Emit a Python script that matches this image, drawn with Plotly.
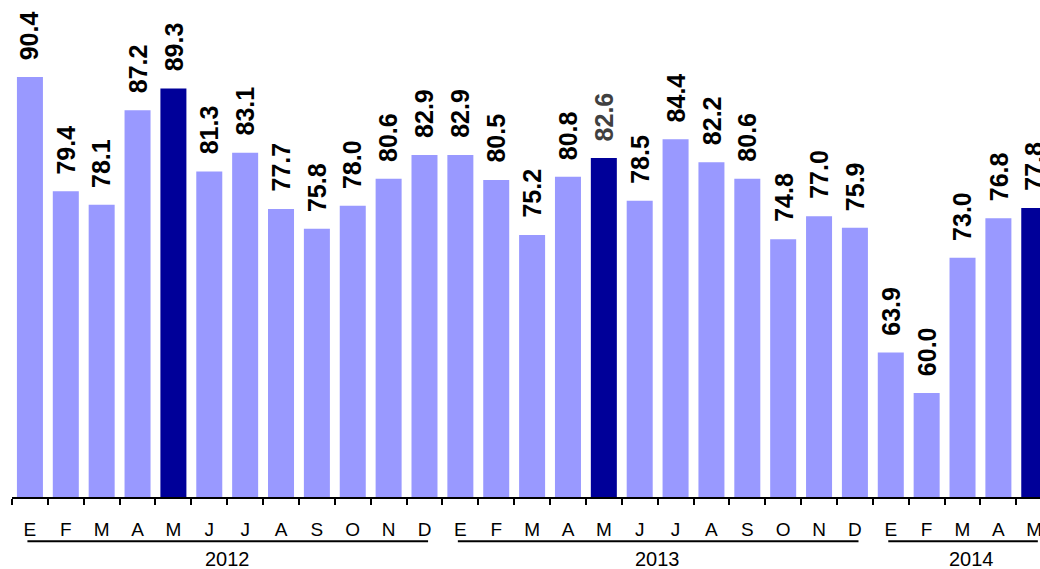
import plotly.graph_objects as go

months_2012 = ["E", "F", "M", "A", "M", "J", "J", "A", "S", "O", "N", "D"]
months_2013 = ["E", "F", "M", "A", "M", "J", "J", "A", "S", "O", "N", "D"]
months_2014 = ["E", "F", "M", "A", "M"]
values_2012 = [90.4, 79.4, 78.1, 87.2, 89.3, 81.3, 83.1, 77.7, 75.8, 78.0, 80.6, 82.9]
values_2013 = [82.9, 80.5, 75.2, 80.8, 82.6, 78.5, 84.4, 82.2, 80.6, 74.8, 77.0, 75.9]
values_2014 = [63.9, 60.0, 73.0, 76.8, 77.8]
years = ["2012", "2013", "2014"]

LIGHT = "#9999FF"
DARK = "#000099"

groups = [(years[0], months_2012, values_2012),
          (years[1], months_2013, values_2013),
          (years[2], months_2014, values_2014)]

xs, labels, vals, colors, text_colors = [], [], [], [], []
idx = 0
group_spans = []
for yr, months, values in groups:
    start = idx
    for j, (m, v) in enumerate(zip(months, values)):
        xs.append(idx)
        labels.append(m)
        vals.append(v)
        hl = (j == 4)  # May highlighted
        colors.append(DARK if hl else LIGHT)
        text_colors.append("#404040" if (hl and yr == "2013") else "#000000")
        idx += 1
    group_spans.append((yr, start, idx - 1))

fig = go.Figure()
fig.add_trace(go.Bar(x=xs, y=vals, marker=dict(color=colors, line=dict(width=0)),
                     width=0.725, hoverinfo="skip"))

annotations = []
for x, v, tc in zip(xs, vals, text_colors):
    annotations.append(dict(x=x, y=v, xref="x", yref="y", text=f"<b>{v:.1f}</b>",
                            textangle=-90, showarrow=False, xanchor="center",
                            yanchor="bottom", yshift=15,
                            font=dict(family="Liberation Sans", size=25, color=tc)))

shapes = []
for yr, s, e in group_spans:
    shapes.append(dict(type="line", xref="x", yref="paper", x0=s - 0.07, x1=e + 0.1,
                       y0=-0.0888, y1=-0.0888, line=dict(color="black", width=2)))
    cx = (s + e) / 2 if e - s >= 11 else 26.25
    annotations.append(dict(x=cx, y=-0.1256, xref="x", yref="paper", text=yr,
                            showarrow=False, xanchor="center", yanchor="middle",
                            font=dict(family="Liberation Sans", size=20, color="black")))

fig.update_layout(
    width=1040, height=569,
    margin=dict(l=12, r=0, t=0, b=71.5, autoexpand=False),
    plot_bgcolor="white", paper_bgcolor="white",
    showlegend=False,
    annotations=annotations,
    shapes=shapes,
    xaxis=dict(range=[-0.5, 28.16], tickmode="array", tickvals=xs, ticktext=labels,
               ticks="outside", ticklen=10, tickcolor="rgba(0,0,0,0)",
               ticklabelstandoff=4, automargin=False, ticklabeloverflow="allow",
               tickfont=dict(family="Liberation Sans", size=19, color="black"),
               showline=True, linecolor="black", linewidth=2, showgrid=False,
               zeroline=False,
               minor=dict(tickmode="array", tickvals=[i - 0.5 for i in range(len(xs) + 1)],
                          ticks="outside", ticklen=6, tickwidth=2, tickcolor="black",
                          showgrid=False)),
    yaxis=dict(range=[50, 97.8], visible=False, showgrid=False, zeroline=False),
)

fig.write_html("out.html", config={"displayModeBar": False},
               post_script="document.body.style.margin='0';document.body.style.overflow='hidden';")
